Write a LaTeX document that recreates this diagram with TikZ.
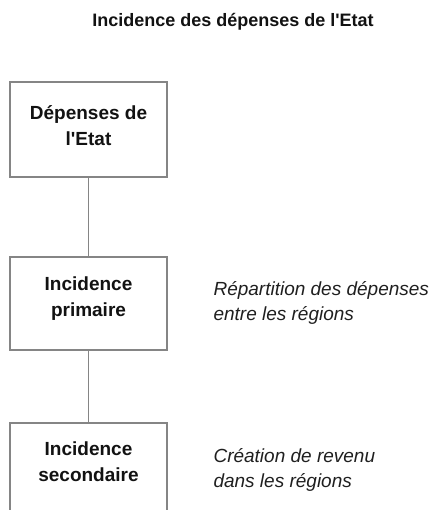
\documentclass[tikz,border=0pt]{standalone}
\usepackage{fontspec}
\setmainfont{Liberation Sans}[Ligatures=TeXOff]
\begin{document}
\begin{tikzpicture}[x=1pt,y=-1pt,
  boxst/.style={draw=black!48, line width=2.4pt, fill=white, minimum width=157pt, inner sep=0pt},
  boxtext/.style={font=\bfseries\fontsize{19}{26}\selectfont, align=center, text=black!93},
  note/.style={font=\itshape\fontsize{19}{25}\selectfont, align=left, anchor=west, text=black!88},
  conn/.style={draw=black!48, line width=1.5pt}]
\clip (0,0) rectangle (432,510);
\useasboundingbox (0,0) rectangle (432,510);
\node[font=\bfseries\fontsize{18}{22}\selectfont, text=black!93] (title) at (233,22) {Incidence des dépenses de l'Etat};
\node[boxst, minimum height=95pt, anchor=north] (b1) at (88.5,81) {};
\node[boxst, minimum height=93pt, anchor=north] (b2) at (88.5,256) {};
\node[boxst, minimum height=140pt, anchor=north] (b3) at (88.5,422) {};
\node[boxtext] (t1) at (88.5,126) {Dépenses de\\l'Etat};
\node[boxtext] (t2) at (88.5,299) {Incidence\\primaire};
\node[boxtext] (t3) at (88.5,462) {Incidence\\secondaire};
\draw[conn] (b1.south) -- (b2.north);
\draw[conn] (b2.south) -- (b3.north);
\node[note] (n2) at (210,303) {Répartition des dépenses\\entre les régions};
\node[note] (n3) at (210,470) {Création de revenu\\dans les régions};
\end{tikzpicture}
\end{document}
